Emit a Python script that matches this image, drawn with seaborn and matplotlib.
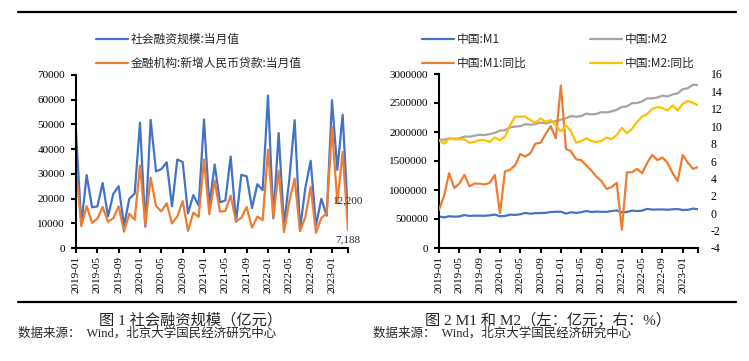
import matplotlib
matplotlib.use("Agg")
import matplotlib.pyplot as plt
import seaborn as sns
import pandas as pd
from matplotlib.lines import Line2D
from matplotlib.ticker import FuncFormatter

# ---------------- data ----------------
months = ["2019-01", "2019-02", "2019-03", "2019-04", "2019-05", "2019-06", "2019-07", "2019-08",
          "2019-09", "2019-10", "2019-11", "2019-12",
          "2020-01", "2020-02", "2020-03", "2020-04", "2020-05", "2020-06", "2020-07", "2020-08",
          "2020-09", "2020-10", "2020-11", "2020-12",
          "2021-01", "2021-02", "2021-03", "2021-04", "2021-05", "2021-06", "2021-07", "2021-08",
          "2021-09", "2021-10", "2021-11", "2021-12",
          "2022-01", "2022-02", "2022-03", "2022-04", "2022-05", "2022-06", "2022-07", "2022-08",
          "2022-09", "2022-10", "2022-11", "2022-12",
          "2023-01", "2023-02", "2023-03", "2023-04"]

tsf = [46900, 9500, 29500, 16500, 16800, 26300, 12800, 21900, 25000, 9100, 19900, 22000,
       50700, 8600, 51800, 31000, 31900, 34700, 16900, 35800, 34800, 14000, 21400, 17200,
       52000, 17100, 33800, 18500, 19200, 37000, 10600, 29600, 29000, 16200, 25800, 23400,
       61700, 12000, 46500, 9100, 27900, 51700, 7600, 24300, 35300, 9100, 19900, 13100,
       59800, 31600, 53900, 12200]

loans = [32300, 8858, 16900, 10200, 11800, 16600, 10600, 12100, 16900, 6613, 13900, 11400,
         33400, 9057, 28500, 17000, 14800, 18100, 9927, 12800, 19000, 6898, 14300, 12600,
         35800, 13600, 27300, 14700, 15000, 21200, 10800, 12200, 16600, 8262, 12700, 11300,
         39800, 12300, 31300, 6454, 18900, 28100, 6790, 12500, 24700, 6152, 12100, 14000,
         49000, 18100, 38900, 7188]

m1 = [545638, 527190, 547575, 540614, 544355, 567696, 553043, 557138, 557137, 555174, 563540, 576009,
      545548, 552700, 575050, 570150, 581100, 604318, 591200, 601300, 602300, 605800, 619800, 625581,
      625600, 593500, 616100, 605400, 616800, 637500, 620400, 626700, 624600, 623700, 638200, 647400,
      613900, 621600, 645100, 636800, 645100, 674400, 661800, 664600, 664500, 660200, 667000, 671700,
      655200, 657900, 678100, 669800]

m2 = [1865900, 1867400, 1889400, 1884700, 1891500, 1921400, 1919400, 1935500, 1952500, 1946600, 1965500, 1986500,
      2023100, 2030800, 2080900, 2093500, 2100200, 2134900, 2125500, 2136800, 2164100, 2149700, 2172000, 2186800,
      2213000, 2236000, 2276500, 2262100, 2275500, 2317800, 2302500, 2312300, 2342800, 2336200, 2356000, 2382900,
      2431000, 2441500, 2497700, 2499700, 2527000, 2581500, 2578100, 2595100, 2626600, 2612900, 2647100, 2664300,
      2738100, 2755300, 2814600, 2809500]

m1_yoy = [0.4, 2.0, 4.6, 2.9, 3.4, 4.4, 3.1, 3.4, 3.4, 3.3, 3.5, 4.4,
          0.0, 4.8, 5.0, 5.5, 6.8, 6.5, 6.9, 8.0, 8.1, 9.1, 10.0, 8.6,
          14.7, 7.4, 7.1, 6.2, 6.1, 5.5, 4.9, 4.2, 3.7, 2.8, 3.0, 3.5,
          -1.9, 4.7, 4.7, 5.1, 4.6, 5.8, 6.7, 6.1, 6.4, 5.8, 4.6, 3.7,
          6.7, 5.8, 5.1, 5.3]

m2_yoy = [8.4, 8.0, 8.6, 8.5, 8.5, 8.5, 8.1, 8.2, 8.4, 8.4, 8.2, 8.7,
          8.4, 8.8, 10.1, 11.1, 11.1, 11.1, 10.7, 10.4, 10.9, 10.5, 10.7, 10.1,
          9.4, 10.1, 9.4, 8.1, 8.3, 8.6, 8.3, 8.2, 8.3, 8.7, 8.5, 9.0,
          9.8, 9.2, 9.7, 10.5, 11.1, 11.4, 12.0, 12.2, 12.1, 11.8, 12.4, 11.8,
          12.6, 12.9, 12.7, 12.4]

left_labels = ["社会融资规模:当月值", "金融机构:新增人民币贷款:当月值"]
right_labels = ["中国:M1", "中国:M2", "中国:M1:同比", "中国:M2:同比"]
caption1 = "图 1 社会融资规模（亿元）"
caption2 = "图 2 M1 和 M2（左：亿元；右：%）"
source = "数据来源：  Wind，北京大学国民经济研究中心"

# ---------------- style ----------------
sns.set_style("ticks")
plt.rcParams["font.family"] = ["Liberation Serif", "Noto Sans CJK SC", "DejaVu Sans"]
plt.rcParams["axes.linewidth"] = 1.5

BLUE, ORANGE, GRAY, YELLOW = "#4472C4", "#ED7D31", "#A5A5A5", "#FFC000"
LW = 1.6
cjk = ["Noto Sans CJK SC", "DejaVu Sans"]
mixed = ["Liberation Serif", "Noto Sans CJK SC", "DejaVu Sans"]

df = pd.DataFrame({"idx": range(len(months)), "month": months, "tsf": tsf, "loans": loans,
                   "m1": m1, "m2": m2, "m1_yoy": m1_yoy, "m2_yoy": m2_yoy})

W, H = 749, 361
fig = plt.figure(figsize=(W / 100, H / 100), dpi=100)

def fx(px):
    return px / W

def fy(py):
    return 1 - py / H

axL = fig.add_axes([fx(76), fy(248), fx(348) - fx(76), fy(75) - fy(248)])
axR = fig.add_axes([fx(439), fy(248), fx(698) - fx(439), fy(74) - fy(248)])

tick_pos = list(range(0, len(months), 4))
n_last = len(months) - 1
plain = FuncFormatter(lambda v, p: f"{int(round(v))}")

def style_x(ax):
    ax.set_xlim(0, n_last)
    ax.set_xticks(tick_pos + [n_last])
    ax.set_xticklabels([months[i] for i in tick_pos] + [""], rotation=90,
                       fontsize=8, family="Liberation Serif")
    ax.tick_params(axis="x", length=3.5, width=1.5, pad=2.5, colors="black")
    ax.set_xlabel("")
    for s in ["top", "right"]:
        ax.spines[s].set_visible(False)
    ax.spines["left"].set_color("black")
    ax.spines["bottom"].set_color("black")

legend_kw = dict(frameon=False, borderpad=0, borderaxespad=0, handlelength=2.7, handletextpad=0.25,
                 labelspacing=0.95, prop={"family": cjk, "size": 8.5}, bbox_transform=fig.transFigure)

# ---------------- left chart ----------------
sns.lineplot(data=df, x="idx", y="tsf", ax=axL, color=BLUE, lw=LW, label=left_labels[0])
sns.lineplot(data=df, x="idx", y="loans", ax=axL, color=ORANGE, lw=LW, label=left_labels[1])
axL.set_ylim(0, 70000)
axL.set_yticks(range(0, 70001, 10000))
axL.yaxis.set_major_formatter(plain)
axL.set_ylabel("")
axL.tick_params(axis="y", length=3.5, width=1.5, pad=4.5, labelsize=8, colors="black")
for lab in axL.get_yticklabels():
    lab.set_family("Liberation Serif")
style_x(axL)
h, l = axL.get_legend_handles_labels()
axL.legend(h, l, loc="upper left", bbox_to_anchor=(fx(96), fy(33)), **legend_kw)

axL.annotate(f"{tsf[-1]:,}", xy=(n_last, tsf[-1]), xytext=(0, 12), textcoords="offset points",
             ha="center", va="center", fontsize=8, family="Liberation Serif")
axL.annotate(f"{loans[-1]:,}", xy=(n_last, loans[-1]), xytext=(0, -7), textcoords="offset points",
             ha="center", va="center", fontsize=8, family="Liberation Serif")

# ---------------- right chart ----------------
sns.lineplot(data=df, x="idx", y="m1", ax=axR, color=BLUE, lw=LW, label=right_labels[0])
sns.lineplot(data=df, x="idx", y="m2", ax=axR, color=GRAY, lw=LW, label=right_labels[1])
axR.set_ylim(0, 3000000)
axR.set_yticks(range(0, 3000001, 500000))
axR.yaxis.set_major_formatter(plain)
axR.set_ylabel("")
axR.tick_params(axis="y", length=3.5, width=1.5, pad=4.5, labelsize=8, colors="black")
for lab in axR.get_yticklabels():
    lab.set_family("Liberation Serif")
style_x(axR)

ax2 = axR.twinx()
sns.lineplot(data=df, x="idx", y="m1_yoy", ax=ax2, color=ORANGE, lw=LW, label=right_labels[2])
sns.lineplot(data=df, x="idx", y="m2_yoy", ax=ax2, color=YELLOW, lw=LW, label=right_labels[3])
ax2.set_ylim(-4, 16)
ax2.set_yticks(range(-4, 17, 2))
ax2.yaxis.set_major_formatter(plain)
ax2.set_ylabel("")
ax2.tick_params(axis="y", length=0, pad=9, labelsize=8.5, colors="black")
for lab in ax2.get_yticklabels():
    lab.set_family("Liberation Serif")
for s in ax2.spines.values():
    s.set_visible(False)
ax2.set_xlim(0, n_last)

h1, l1 = axR.get_legend_handles_labels()
h2, l2 = ax2.get_legend_handles_labels()
if axR.get_legend():
    axR.get_legend().remove()
hs = [h1[0], h2[0], h1[1], h2[1]]
ls = [l1[0], l2[0], l1[1], l2[1]]
ax2.legend(hs, ls, loc="upper left", ncol=2, bbox_to_anchor=(fx(422), fy(33)),
           columnspacing=5.4, **legend_kw)

# ---------------- frame lines & captions ----------------
fig.add_artist(Line2D([fx(18), fx(736)], [fy(12), fy(12)], color="black", lw=1.6))
fig.add_artist(Line2D([fx(18), fx(736)], [fy(302), fy(302)], color="black", lw=1.6))
fig.text(fx(191), fy(320), caption1, ha="center", va="center", fontsize=11, family=mixed)
fig.text(fx(548), fy(320), caption2, ha="center", va="center", fontsize=11, family=mixed)
fig.text(fx(18), fy(333), source, ha="left", va="center", fontsize=9, family=mixed)
fig.text(fx(373), fy(333), source, ha="left", va="center", fontsize=9, family=mixed)

fig.savefig("out.png", dpi=100)
